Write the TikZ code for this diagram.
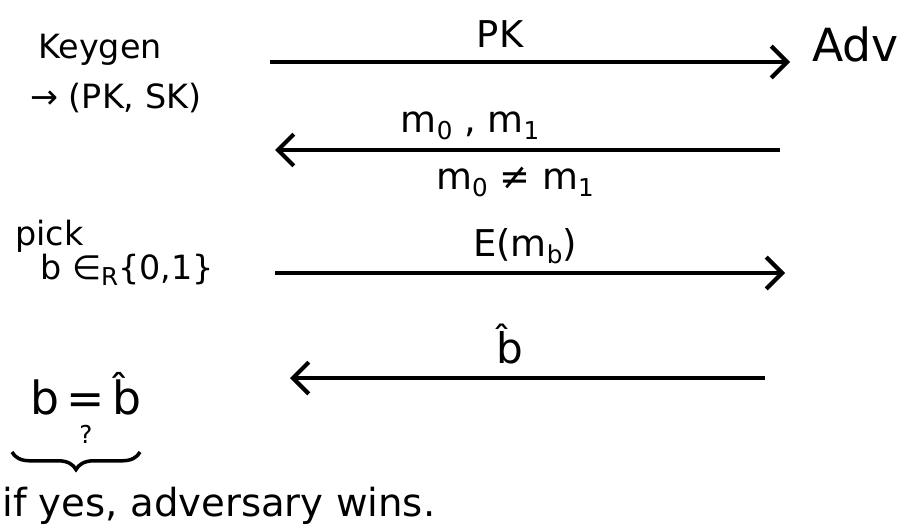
\documentclass[tikz,border=0pt]{standalone}
\usepackage{fontspec}
\setmainfont{DejaVu Sans}
\usetikzlibrary{arrows.meta,decorations.pathreplacing}
\newcommand{\subsc}[1]{\raisebox{-0.35ex}{\fontsize{14}{16}\selectfont #1}}
\newcommand{\bhat}{\^{b}}
\tikzset{
  msg/.style={line width=2.4pt,-{Straight Barb[length=9pt,width=18pt,line width=2.4pt]}},
  lbl/.style={font=\fontsize{21}{25}\selectfont},
  side/.style={font=\fontsize{19}{23}\selectfont,inner sep=0pt},
}
\begin{document}
\begin{tikzpicture}[x=0.02cm,y=-0.02cm]
\useasboundingbox (0,0) rectangle (912,531);
% left-side texts
\node[side,anchor=west] (keygen) at (38,50) {Keygen};
\node[side,anchor=west] (pksk) at (30,98) {→ (PK, SK)};
\node[side,anchor=west] (pick) at (15,236) {pick};
\node[side,anchor=west] (bin) at (40,270) {b ∈\subsc{R}\{0,1\}};
\node[anchor=west,inner sep=0pt,font=\fontsize{26}{30}\selectfont] (eq) at (30,394) {b\,=\,\bhat};
\node[inner sep=0pt,font=\fontsize{14}{16}\selectfont] (q) at (86,434) {?};
\coordinate (brl) at (12,452);
\coordinate (brr) at (140,452);
\draw[line width=2pt,decorate,decoration={brace,mirror,amplitude=10pt}] (brl) -- (brr);
\node[anchor=west,inner sep=0pt,font=\fontsize{22}{26}\selectfont] (wins) at (2,506) {if yes, adversary wins.};
% Adv
\node[anchor=west,inner sep=0pt,font=\fontsize{26}{30}\selectfont] (adv) at (812,44) {Adv};
% arrow end points
\coordinate (a1s) at (270,62);  \coordinate (a1e) at (790,62);
\coordinate (a2s) at (780,150); \coordinate (a2e) at (275,150);
\coordinate (a3s) at (275,273); \coordinate (a3e) at (785,273);
\coordinate (a4s) at (765,378); \coordinate (a4e) at (290,378);
\draw[msg] (a1s) -- (a1e);
\draw[msg] (a2s) -- (a2e);
\draw[msg] (a3s) -- (a3e);
\draw[msg] (a4s) -- (a4e);
% message labels
\node[lbl] (pk) at (500,34) {PK};
\node[lbl] (m01) at (470,126) {m\subsc{0} , m\subsc{1}};
\node[lbl] (mne) at (515,182) {m\subsc{0} ≠ m\subsc{1}};
\node[lbl] (emb) at (525,246) {E(m\subsc{b})};
\node[lbl,font=\fontsize{24}{28}\selectfont] (bh) at (510,344) {\bhat};
\end{tikzpicture}
\end{document}
